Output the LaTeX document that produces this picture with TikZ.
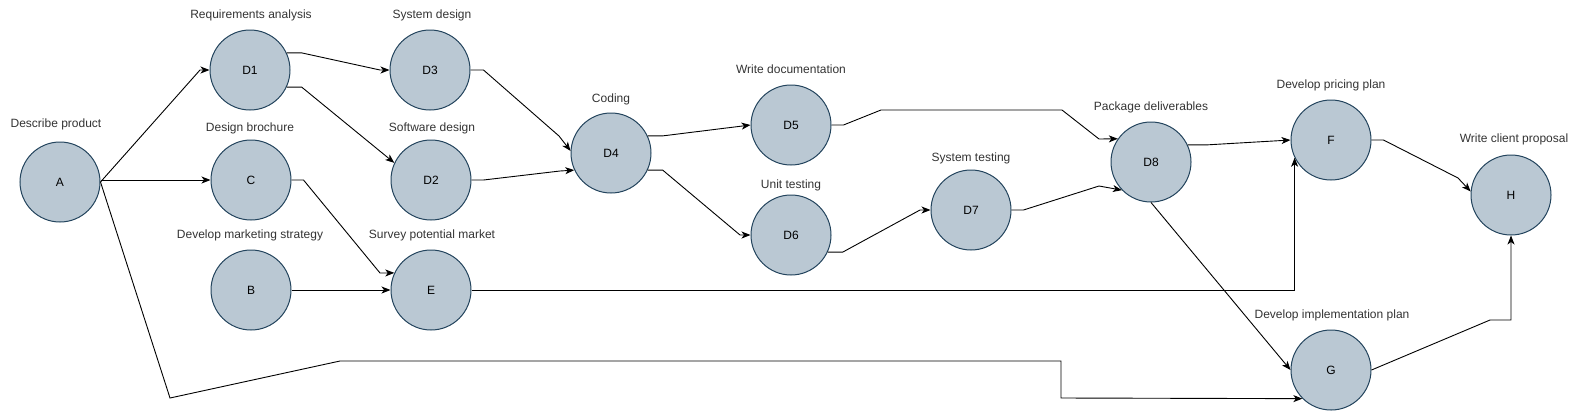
\documentclass[tikz,border=0pt]{standalone}
\usepackage{fontspec}
\setmainfont{Liberation Sans}
\usetikzlibrary{arrows.meta}
\definecolor{taskfill}{HTML}{BAC8D3}
\definecolor{taskline}{HTML}{23445D}
\definecolor{captext}{HTML}{333333}
\begin{document}
\begin{tikzpicture}[x=1bp,y=-1bp,
        task/.style={circle,draw=taskline,fill=taskfill,line width=1bp,minimum size=80bp,inner sep=0pt,font=\fontsize{12bp}{14bp}\selectfont},
        caption/.style={font=\fontsize{12bp}{14bp}\selectfont,text=captext,inner sep=0pt},
        link/.style={draw=black,line width=0.9bp,-{Stealth[length=9bp,width=7bp,inset=2.5bp]}}]
        \useasboundingbox (0,0) rectangle (1576,411);

        \node[task] (A) at (60,182) {A};
        \node[task] (D1) at (250,70) {D1};
        \node[task] (C) at (251,180) {C};
        \node[task] (B) at (251,290) {B};
        \node[task] (D3) at (430,70) {D3};
        \node[task] (D2) at (431,180) {D2};
        \node[task] (E) at (431,290) {E};
        \node[task] (D4) at (611,153) {D4};
        \node[task] (D5) at (791,125) {D5};
        \node[task] (D6) at (791,235) {D6};
        \node[task] (D7) at (971,210) {D7};
        \node[task] (D8) at (1151,162) {D8};
        \node[task] (F) at (1331,140) {F};
        \node[task] (G) at (1331,370) {G};
        \node[task] (H) at (1511,195) {H};

        \node[caption] (lA) at (56,124) {Describe product};
        \node[caption] (lD1) at (251,15) {Requirements analysis};
        \node[caption] (lD3) at (432,15) {System design};
        \node[caption] (lC) at (250,128) {Design brochure};
        \node[caption] (lD2) at (432,128) {Software design};
        \node[caption] (lB) at (250,235) {Develop marketing strategy};
        \node[caption] (lE) at (432,235) {Survey potential market};
        \node[caption] (lD4) at (611,99) {Coding};
        \node[caption] (lD5) at (791,69) {Write documentation};
        \node[caption] (lD6) at (791,185) {Unit testing};
        \node[caption] (lD7) at (971,158) {System testing};
        \node[caption] (lD8) at (1151,107) {Package deliverables};
        \node[caption] (lF) at (1331,85) {Develop pricing plan};
        \node[caption] (lH) at (1514,139) {Write client proposal};
        \node[caption] (lG) at (1332,315) {Develop implementation plan};

        \draw[link] (A.east) -- (200,70) -- (D1.west);
        \draw[link] (A.east |- C.west) -- (C.west);
        \draw[link] (A.east) -- (170,398) -- (340,361) -- (1061,361) -- (1061,398) -- (G.south west);
        \draw[link] (D1.25) -- ++(15,0) -- (380,70) -- (D3.west);
        \draw[link] (D1.-25) -- ++(15,0) -- (D2.155);
        \draw[link] (C.east) -- ++(12,0) -- (380,273) -- (E.155);
        \draw[link] (B.east) -- (E.west);
        \draw[link] (D3.east) -- ++(13,0) -- (559,136) -- (D4.177);
        \draw[link] (D2.east) -- ++(12,0) -- (560,171) -- (D4.-155);
        \draw[link] (D4.25) -- ++(15,0) -- (D5.west);
        \draw[link] (D4.-25) -- ++(15,0) -- (740,235) -- (D6.west);
        \draw[link] (D5.east) -- ++(12,0) -- (881,110) -- (1062,110) -- (1099,139) -- (D8.145);
        \draw[link] (D6.-25) -- ++(15,0) -- (920,210) -- (D7.west);
        \draw[link] (D7.east) -- ++(12,0) -- (1099,186) -- (D8.-136);
        \draw[link] (D8.25) -- ++(19,0) -- (F.west);
        \draw[link] (D8.south) -- (G.west);
        \draw[link] (E.east) -| (F.-154);
        \draw[link] (F.east) -- ++(12,0) -- (1458,178) -- (H.175);
        \draw[link] (G.east) -- (1490,320) -| (H.south);
\end{tikzpicture}
\end{document}
